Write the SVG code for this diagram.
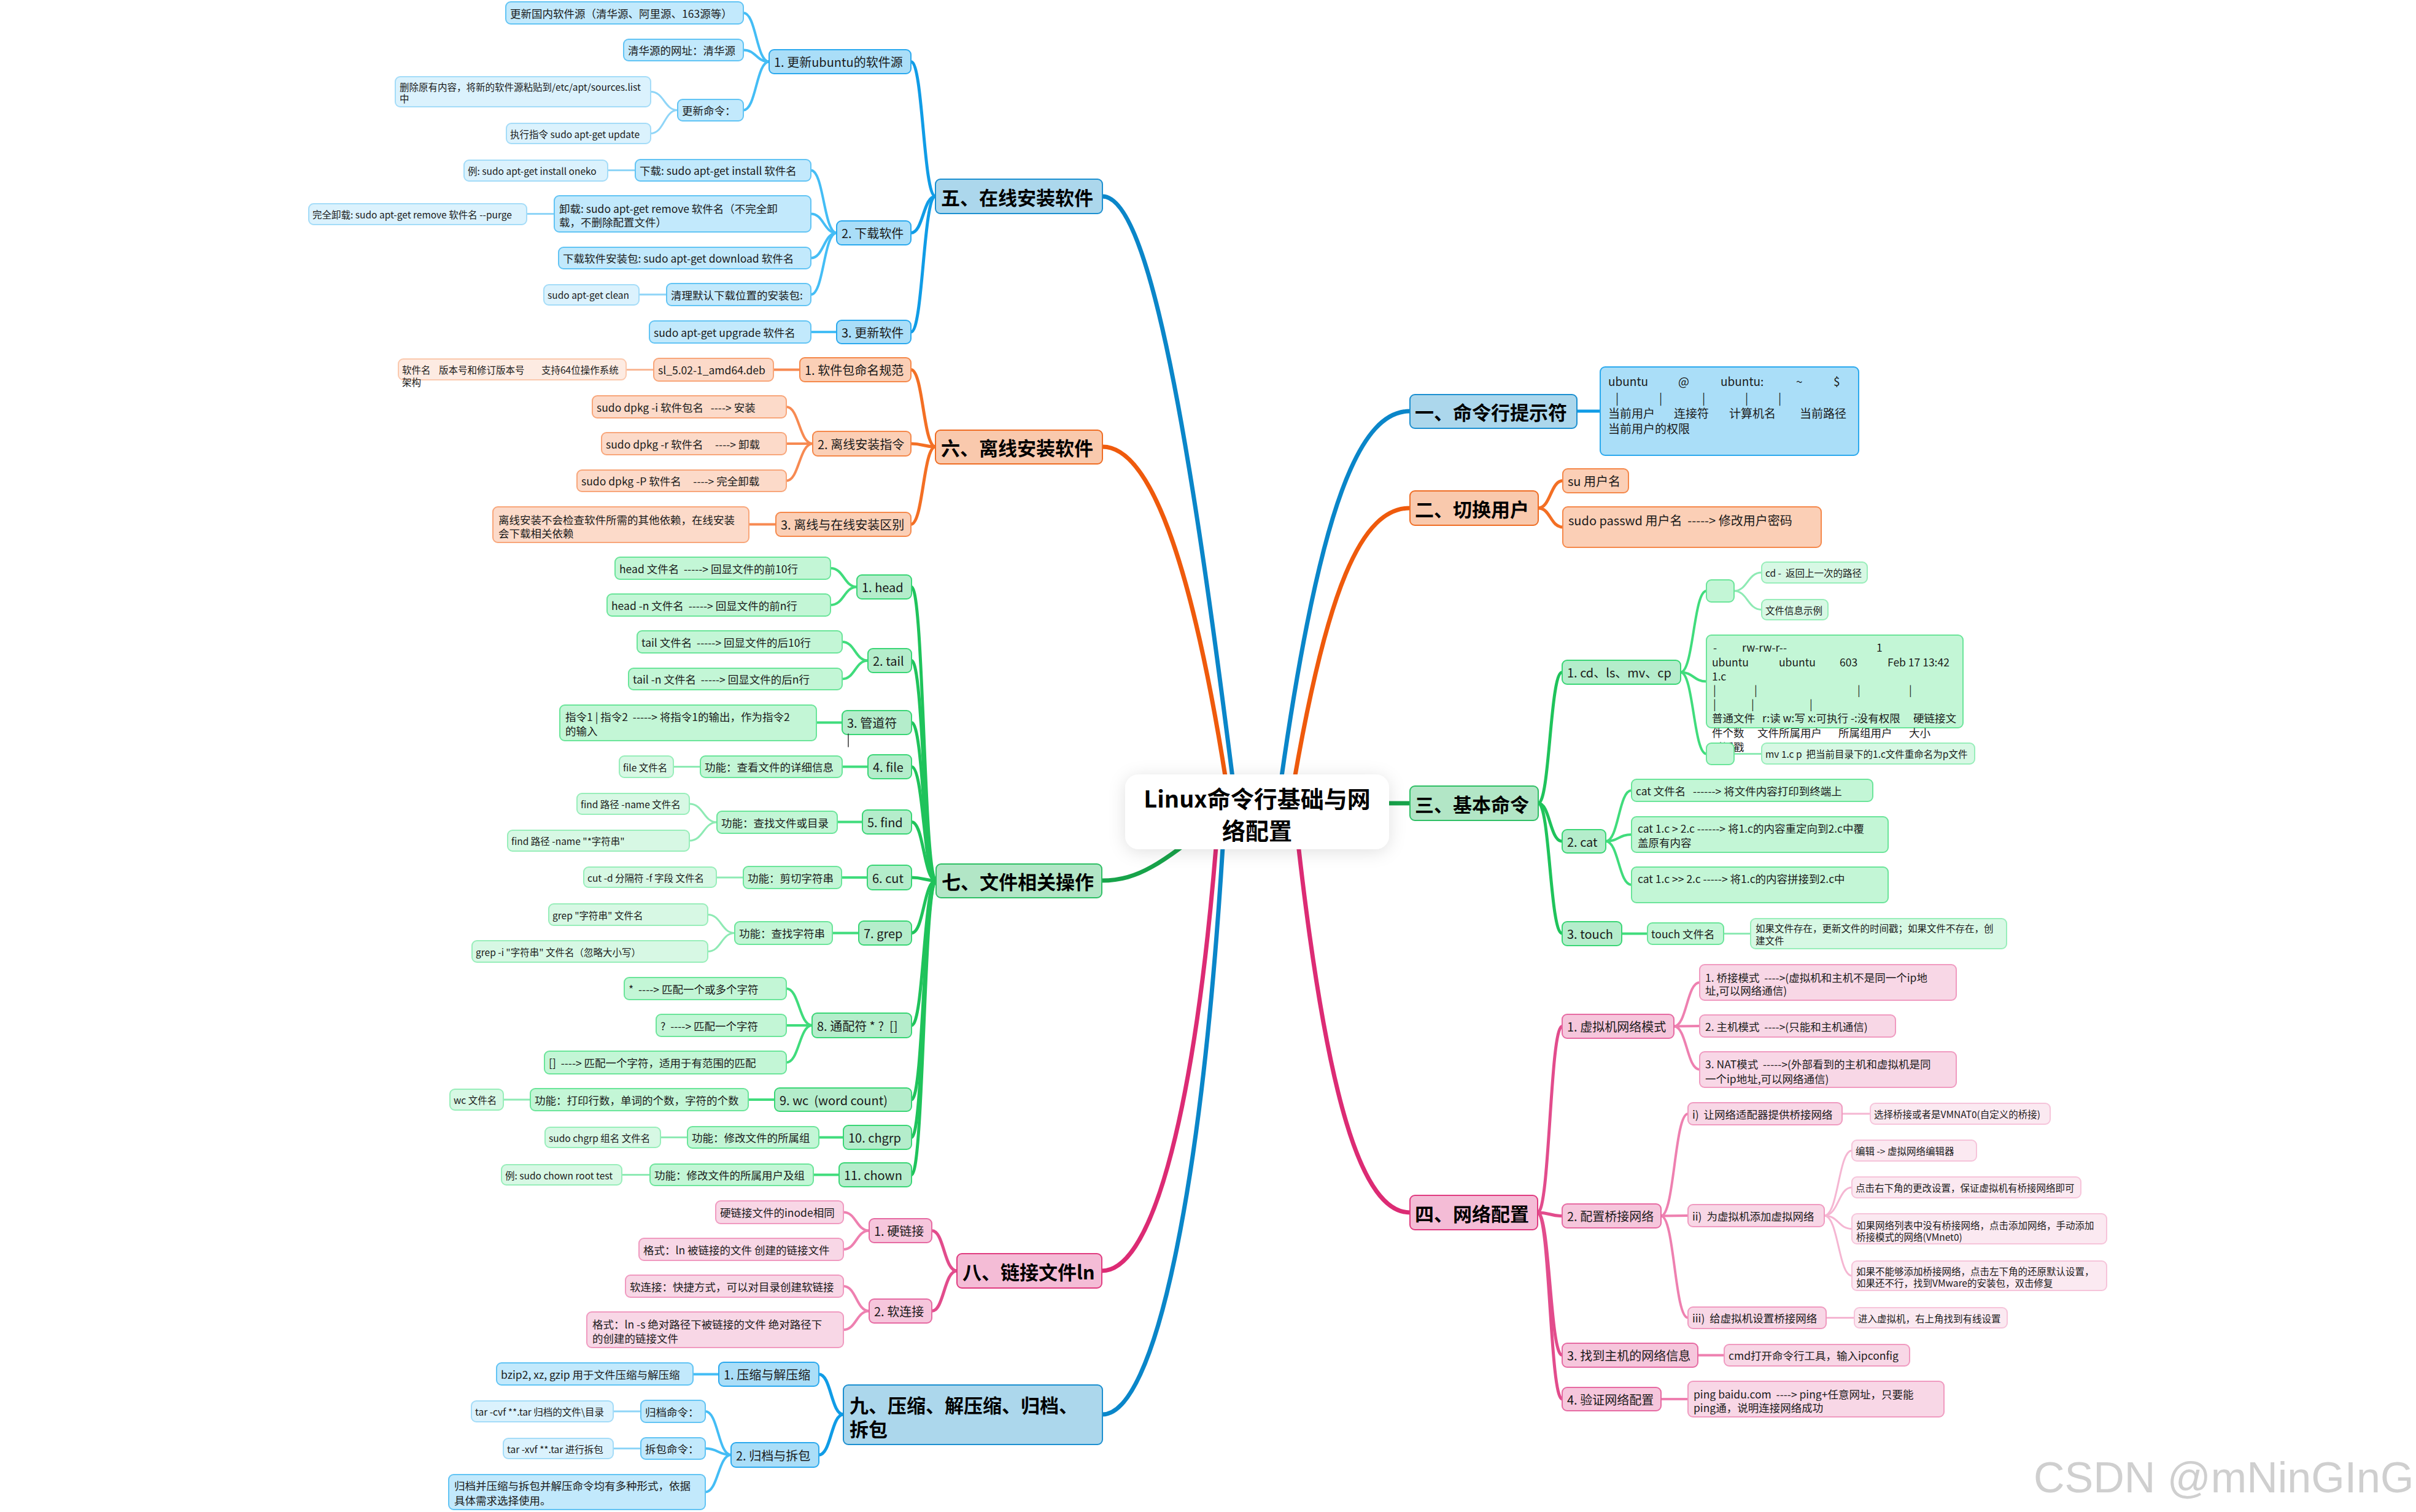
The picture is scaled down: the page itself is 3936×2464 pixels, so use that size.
<svg xmlns="http://www.w3.org/2000/svg" width="3936" height="2464" viewBox="0 0 3936 2464">
<defs>
<filter id="sh" x="-20%" y="-40%" width="140%" height="180%"><feDropShadow dx="0" dy="4" stdDeviation="14" flood-color="#000" flood-opacity="0.12"/></filter>
<style>
text{font-family:"Noto Sans CJK SC","Noto Sans",sans-serif;fill:#1a1a1a;dominant-baseline:central;white-space:pre}
.tc{font-size:38px;font-weight:700;fill:#000;text-anchor:middle}
.tm{font-size:31px;font-weight:700;fill:#000}
.t1{font-size:20px}
.t2{font-size:17.5px}
.t3{font-size:15.5px}
.t4{font-size:19px}
.wm{font-family:"Liberation Sans",Arial,sans-serif;font-size:70px;fill:#cfcfcf;dominant-baseline:alphabetic}
rect{stroke-width:2}
.b0{fill:#acd7ec;stroke:#1b8fd0}.b1{fill:#aadef8;stroke:#2ba9ee}.b2{fill:#c2e9fc;stroke:#62c4f4}.b3{fill:#dbf2fd;stroke:#a4dcf8}
.o0{fill:#f9c9ad;stroke:#ef6d24}.o1{fill:#fbcfb6;stroke:#f5884a}.o2{fill:#fcdac9;stroke:#f8a67a}.o3{fill:#fdebe2;stroke:#fbc9ae}
.g0{fill:#b2e6c6;stroke:#2fbf65}.g1{fill:#b4edcb;stroke:#3ad676}.g2{fill:#c3f6d6;stroke:#6be59a}.g3{fill:#d7f8e4;stroke:#98eeba}
.p0{fill:#f4bcd6;stroke:#e03b80}.p1{fill:#f6c6dc;stroke:#e66aa2}.p2{fill:#f8d7e6;stroke:#f09ac0}.p3{fill:#fbe9f1;stroke:#f6c4da}
path,line{fill:none;stroke-linecap:round}
.mb{stroke:#0a86c9;stroke-width:7}.mo{stroke:#ef5a0c;stroke-width:7}.mg{stroke:#17a34a;stroke-width:7}.mp{stroke:#dc2b74;stroke-width:7}
.cb1{stroke:#109ce6;stroke-width:5}.cb2{stroke:#44bdf5;stroke-width:4}.cb3{stroke:#8fd5f7;stroke-width:3}
.co1{stroke:#f36f24;stroke-width:5}.co2{stroke:#f78a52;stroke-width:4}.co3{stroke:#f9b896;stroke-width:3}
.cg1{stroke:#1fc35b;stroke-width:5}.cg2{stroke:#40dc7c;stroke-width:4}.cg3{stroke:#8eeab4;stroke-width:3}
.cp1{stroke:#e24c8c;stroke-width:5}.cp2{stroke:#ee80b0;stroke-width:4}.cp3{stroke:#f5b6d2;stroke-width:3}
</style>
</defs>
<rect width="3936" height="2464" fill="#fff" stroke="none"/>

<g id="connectors">
<path class="mb" d="M2015,1323 C1950,800 1880,320 1796,320"/>
<path class="mo" d="M2005,1323 C1950,950 1880,728 1796,728"/>
<path class="mg" d="M1990,1330 C1900,1400 1860,1435 1795,1435"/>
<path class="mp" d="M1985,1330 C1950,1800 1880,2071 1795,2071"/>
<path class="mb" d="M1995,1330 C1960,1950 1880,2305 1796,2305"/>
<path class="mb" d="M2080,1323 C2150,800 2220,670 2297,670"/>
<path class="mo" d="M2100,1323 C2160,950 2220,828 2297,828"/>
<path class="mg" d="M2048,1309 L2297,1309"/>
<path class="mp" d="M2110,1330 C2160,1800 2220,1976 2297,1976"/>
<path class="cb1" d="M1524,320 C1504,320 1504,100.5 1484,100.5"/>
<path class="cb1" d="M1524,320 C1504,320 1504,379.5 1484,379.5"/>
<path class="cb1" d="M1524,320 C1504,320 1504,541 1484,541"/>
<path class="cb2" d="M1253,100.5 C1232,100.5 1232,21 1211,21"/>
<path class="cb2" d="M1253,100.5 C1232,100.5 1232,81.5 1211,81.5"/>
<path class="cb2" d="M1253,100.5 C1232,100.5 1232,179.5 1211,179.5"/>
<path class="cb3" d="M1104,179.5 C1082,179.5 1082,149.5 1060,149.5"/>
<path class="cb3" d="M1104,179.5 C1082,179.5 1082,217.5 1060,217.5"/>
<path class="cb2" d="M1363,379.5 C1342,379.5 1342,277.5 1321,277.5"/>
<path class="cb2" d="M1363,379.5 C1342,379.5 1342,348.5 1321,348.5"/>
<path class="cb2" d="M1363,379.5 C1342,379.5 1342,420.5 1321,420.5"/>
<path class="cb2" d="M1363,379.5 C1342,379.5 1342,480 1321,480"/>
<line class="cb3" x1="1035" y1="277.5" x2="990" y2="277.5"/>
<line class="cb3" x1="903" y1="348.5" x2="858" y2="348.5"/>
<line class="cb3" x1="1086" y1="480" x2="1041" y2="480"/>
<line class="cb2" x1="1363" y1="541" x2="1321" y2="541"/>
<path class="co1" d="M1524,728 C1504,728 1504,602.5 1484,602.5"/>
<path class="co1" d="M1524,728 C1504,728 1504,723 1484,723"/>
<path class="co1" d="M1524,728 C1504,728 1504,854.5 1484,854.5"/>
<line class="co2" x1="1303" y1="602.5" x2="1260" y2="602.5"/>
<line class="co3" x1="1065" y1="602.5" x2="1020" y2="602.5"/>
<path class="co2" d="M1324,723 C1302,723 1302,663 1281,663"/>
<path class="co2" d="M1324,723 L1281,723"/>
<path class="co2" d="M1324,723 C1302,723 1302,783.5 1281,783.5"/>
<line class="co2" x1="1264" y1="854.5" x2="1220" y2="854.5"/>
<path class="cg1" d="M1525,1435 C1505,1435 1505,956.5 1485,956.5"/>
<path class="cg1" d="M1525,1435 C1505,1435 1505,1076.5 1485,1076.5"/>
<path class="cg1" d="M1525,1435 C1505,1435 1505,1177.5 1485,1177.5"/>
<path class="cg1" d="M1525,1435 C1505,1435 1505,1249.5 1485,1249.5"/>
<path class="cg1" d="M1525,1435 C1505,1435 1505,1339.5 1485,1339.5"/>
<path class="cg1" d="M1525,1435 C1505,1435 1505,1430 1485,1430"/>
<path class="cg1" d="M1525,1435 C1505,1435 1505,1520.5 1485,1520.5"/>
<path class="cg1" d="M1525,1435 C1505,1435 1505,1671 1485,1671"/>
<path class="cg1" d="M1525,1435 C1505,1435 1505,1792 1485,1792"/>
<path class="cg1" d="M1525,1435 C1505,1435 1505,1853.5 1485,1853.5"/>
<path class="cg1" d="M1525,1435 C1505,1435 1505,1914.5 1485,1914.5"/>
<path class="cg2" d="M1396,956.5 C1375,956.5 1375,926 1353,926"/>
<path class="cg2" d="M1396,956.5 C1375,956.5 1375,986 1353,986"/>
<path class="cg2" d="M1414,1076.5 C1393,1076.5 1393,1046 1372,1046"/>
<path class="cg2" d="M1414,1076.5 C1393,1076.5 1393,1106.5 1372,1106.5"/>
<line class="cg2" x1="1372" y1="1177.5" x2="1330" y2="1177.5"/>
<line class="cg2" x1="1414" y1="1249.5" x2="1372" y2="1249.5"/>
<line class="cg3" x1="1141" y1="1249.5" x2="1097" y2="1249.5"/>
<line class="cg2" x1="1405" y1="1339.5" x2="1364" y2="1339.5"/>
<path class="cg3" d="M1168,1340 C1146,1340 1146,1310 1123,1310"/>
<path class="cg3" d="M1168,1340 C1146,1340 1146,1370 1123,1370"/>
<line class="cg2" x1="1413" y1="1430" x2="1371" y2="1430"/>
<line class="cg3" x1="1211" y1="1430" x2="1167" y2="1430"/>
<line class="cg2" x1="1399" y1="1520.5" x2="1356" y2="1520.5"/>
<path class="cg3" d="M1197,1520.5 C1175,1520.5 1175,1490.5 1153,1490.5"/>
<path class="cg3" d="M1197,1520.5 C1175,1520.5 1175,1550.5 1153,1550.5"/>
<path class="cg2" d="M1323,1671 C1302,1671 1302,1611 1281,1611"/>
<path class="cg2" d="M1323,1671 L1281,1671"/>
<path class="cg2" d="M1323,1671 C1302,1671 1302,1731.5 1281,1731.5"/>
<line class="cg2" x1="1262" y1="1792" x2="1219" y2="1792"/>
<line class="cg3" x1="864" y1="1792" x2="820" y2="1792"/>
<line class="cg2" x1="1374" y1="1853.5" x2="1334" y2="1853.5"/>
<line class="cg3" x1="1120" y1="1853.5" x2="1076" y2="1853.5"/>
<line class="cg2" x1="1367" y1="1914.5" x2="1325" y2="1914.5"/>
<line class="cg3" x1="1059" y1="1914.5" x2="1013" y2="1914.5"/>
<path class="cp1" d="M1559,2071 C1538,2071 1538,2005.5 1518,2005.5"/>
<path class="cp1" d="M1559,2071 C1538,2071 1538,2136.5 1518,2136.5"/>
<path class="cp2" d="M1416,2005.5 C1395,2005.5 1395,1975.5 1374,1975.5"/>
<path class="cp2" d="M1416,2005.5 C1395,2005.5 1395,2036 1374,2036"/>
<path class="cp2" d="M1416,2136.5 C1395,2136.5 1395,2096 1374,2096"/>
<path class="cp2" d="M1416,2136.5 C1395,2136.5 1395,2167 1374,2167"/>
<path class="cb1" d="M1374,2305 C1354,2305 1354,2239.5 1334,2239.5"/>
<path class="cb1" d="M1374,2305 C1354,2305 1354,2371 1334,2371"/>
<line class="cb2" x1="1171" y1="2239.5" x2="1129" y2="2239.5"/>
<path class="cb2" d="M1191,2371 C1170,2371 1170,2300 1149,2300"/>
<path class="cb2" d="M1191,2371 C1170,2371 1170,2360.5 1149,2360.5"/>
<path class="cb2" d="M1191,2371 C1170,2371 1170,2431.5 1149,2431.5"/>
<line class="cb3" x1="1044" y1="2300" x2="999" y2="2300"/>
<line class="cb3" x1="1044" y1="2360.5" x2="999" y2="2360.5"/>
<line class="cb1" x1="2569" y1="670" x2="2607" y2="670"/>
<path class="co1" d="M2506,828 C2526,828 2526,783.5 2546,783.5"/>
<path class="co1" d="M2506,828 C2526,828 2526,859 2546,859"/>
<path class="cg1" d="M2506,1309 C2525,1309 2525,1095.5 2545,1095.5"/>
<path class="cg1" d="M2506,1309 C2525,1309 2525,1371 2545,1371"/>
<path class="cg1" d="M2506,1309 C2525,1309 2525,1521 2545,1521"/>
<path class="cg2" d="M2738,1095.5 C2759,1095.5 2759,963 2780,963"/>
<path class="cg2" d="M2738,1095.5 C2759,1095.5 2759,1110.5 2780,1110.5"/>
<path class="cg2" d="M2738,1095.5 C2759,1095.5 2759,1228.5 2780,1228.5"/>
<path class="cg3" d="M2825,963 C2847,963 2847,933 2870,933"/>
<path class="cg3" d="M2825,963 C2847,963 2847,993.5 2870,993.5"/>
<line class="cg3" x1="2825" y1="1228.5" x2="2870" y2="1228.5"/>
<path class="cg2" d="M2616,1371 C2637,1371 2637,1288 2658,1288"/>
<path class="cg2" d="M2616,1371 C2637,1371 2637,1360 2658,1360"/>
<path class="cg2" d="M2616,1371 C2637,1371 2637,1442 2658,1442"/>
<line class="cg2" x1="2642" y1="1521.5" x2="2684" y2="1521.5"/>
<line class="cg3" x1="2808" y1="1521.5" x2="2852" y2="1521.5"/>
<path class="cp1" d="M2505,1976 C2525,1976 2525,1672.5 2545,1672.5"/>
<path class="cp1" d="M2505,1976 C2525,1976 2525,1981.5 2545,1981.5"/>
<path class="cp1" d="M2505,1976 C2525,1976 2525,2208.5 2545,2208.5"/>
<path class="cp1" d="M2505,1976 C2525,1976 2525,2280 2545,2280"/>
<path class="cp2" d="M2727,1672.5 C2748,1672.5 2748,1601 2769,1601"/>
<path class="cp2" d="M2727,1672.5 L2769,1672"/>
<path class="cp2" d="M2727,1672.5 C2748,1672.5 2748,1743 2769,1743"/>
<path class="cp2" d="M2706,1981.5 C2728,1981.5 2728,1815 2750,1815"/>
<path class="cp2" d="M2706,1981.5 L2750,1981"/>
<path class="cp2" d="M2706,1981.5 C2728,1981.5 2728,2147.5 2750,2147.5"/>
<line class="cp3" x1="3001" y1="1815" x2="3047" y2="1815"/>
<path class="cp3" d="M2972,1981 C2995,1981 2995,1875 3017,1875"/>
<path class="cp3" d="M2972,1981 C2995,1981 2995,1935 3017,1935"/>
<path class="cp3" d="M2972,1981 C2995,1981 2995,2002.5 3017,2002.5"/>
<path class="cp3" d="M2972,1981 C2995,1981 2995,2079 3017,2079"/>
<line class="cp3" x1="2975" y1="2147.5" x2="3021" y2="2147.5"/>
<line class="cp2" x1="2766" y1="2208.5" x2="2809" y2="2208.5"/>
<line class="cp2" x1="2706" y1="2280" x2="2750" y2="2280"/>
</g>

<g id="center"><rect x="1833" y="1262" width="430" height="122" rx="22" fill="#fff" stroke="none" filter="url(#sh)"/>
<text class="tc" x="2048" y="1299">Linux命令行基础与网</text><text class="tc" x="2048" y="1351">络配置</text></g>

<g id="n1"><rect class="b0" x="2297" y="643" width="272" height="55" rx="8"/><text class="tm" x="2305" y="670">一、命令行提示符</text></g>
<g id="n1-1"><rect class="b1" x="2607" y="598" width="421" height="144" rx="8"/>
<text class="t4" y="620"><tspan x="2620">ubuntu</tspan><tspan x="2734">@</tspan><tspan x="2803">ubuntu:</tspan><tspan x="2926">~</tspan><tspan x="2987">$</tspan></text>
<text class="t4" y="647"><tspan x="2632">|</tspan><tspan x="2703">|</tspan><tspan x="2773">|</tspan><tspan x="2843">|</tspan><tspan x="2897">|</tspan></text>
<text class="t4" y="672"><tspan x="2620">当前用户</tspan><tspan x="2727">连接符</tspan><tspan x="2817">计算机名</tspan><tspan x="2932">当前路径</tspan></text>
<text class="t4" x="2620" y="697">当前用户的权限</text></g>

<g id="n2"><rect class="o0" x="2297" y="800" width="209" height="56" rx="8"/><text class="tm" x="2305" y="828">二、切换用户</text></g>
<g id="n2-1"><rect class="o1" x="2546" y="764" width="107" height="39" rx="8"/><text class="t1" x="2554" y="783.5">su 用户名</text></g>
<g id="n2-2"><rect class="o1" x="2546" y="826" width="421" height="66" rx="8"/><text class="t1" x="2555" y="847">sudo passwd 用户名  -----&gt; 修改用户密码</text></g>

<g id="n3"><rect class="g0" x="2297" y="1281" width="209" height="56" rx="8"/><text class="tm" x="2305" y="1309">三、基本命令</text></g>
<g id="n3-1"><rect class="g1" x="2545" y="1076" width="193" height="39" rx="8"/><text class="t1" x="2553" y="1095.5">1. cd、ls、mv、cp</text></g>
<g id="n3-1a"><rect class="g2" x="2780" y="945" width="45" height="36" rx="8"/></g>
<g id="n3-1a1"><rect class="g3" x="2870" y="916" width="172" height="34" rx="8"/><text class="t3" x="2876" y="933">cd -  返回上一次的路径</text></g>
<g id="n3-1a2"><rect class="g3" x="2870" y="977" width="108" height="33" rx="8"/><text class="t3" x="2876" y="993.5">文件信息示例</text></g>
<g id="n3-1b"><rect class="g2" x="2780" y="1035" width="418" height="151" rx="8"/>
<text class="t2" y="1054"><tspan x="2791">-</tspan><tspan x="2838">rw-rw-r--</tspan><tspan x="3057">1</tspan></text>
<text class="t2" y="1078"><tspan x="2789">ubuntu</tspan><tspan x="2898">ubuntu</tspan><tspan x="2997">603</tspan><tspan x="3075">Feb 17 13:42</tspan></text>
<text class="t2" x="2789" y="1101">1.c</text>
<text class="t2" y="1123"><tspan x="2791">|</tspan><tspan x="2858">|</tspan><tspan x="3026">|</tspan><tspan x="3110">|</tspan></text>
<text class="t2" y="1146"><tspan x="2791">|</tspan><tspan x="2853">|</tspan><tspan x="2948">|</tspan></text>
<text class="t2" y="1169"><tspan x="2789">普通文件</tspan><tspan x="2871">r:读 w:写 x:可执行 -:没有权限</tspan><tspan x="3117">硬链接文</tspan></text>
<text class="t2" y="1193"><tspan x="2789">件个数</tspan><tspan x="2863">文件所属用户</tspan><tspan x="2995">所属组用户</tspan><tspan x="3110">大小</tspan></text>
<text class="t2" x="2789" y="1216">时间戳</text></g>
<g id="n3-1c"><rect class="g2" x="2780" y="1211" width="45" height="35" rx="8"/></g>
<g id="n3-1c1"><rect class="g3" x="2870" y="1211" width="347" height="34" rx="8"/><text class="t3" x="2876" y="1228">mv 1.c p  把当前目录下的1.c文件重命名为p文件</text></g>
<g id="n3-2"><rect class="g1" x="2545" y="1352" width="71" height="38" rx="8"/><text class="t1" x="2553" y="1371">2. cat</text></g>
<g id="n3-2a"><rect class="g2" x="2658" y="1270" width="393" height="36" rx="8"/><text class="t2" x="2665" y="1288">cat 文件名   ------&gt; 将文件内容打印到终端上</text></g>
<g id="n3-2b"><rect class="g2" x="2658" y="1331" width="418" height="58" rx="8"/><text class="t2" x="2668" y="1349">cat 1.c &gt; 2.c ------&gt; 将1.c的内容重定向到2.c中覆</text><text class="t2" x="2668" y="1372">盖原有内容</text></g>
<g id="n3-2c"><rect class="g2" x="2658" y="1413" width="418" height="58" rx="8"/><text class="t2" x="2668" y="1431">cat 1.c &gt;&gt; 2.c -----&gt; 将1.c的内容拼接到2.c中</text></g>
<g id="n3-3"><rect class="g1" x="2545" y="1502" width="97" height="39" rx="8"/><text class="t1" x="2553" y="1521">3. touch</text></g>
<g id="n3-3a"><rect class="g2" x="2684" y="1504" width="124" height="35" rx="8"/><text class="t2" x="2690" y="1521.5">touch 文件名</text></g>
<g id="n3-3b"><rect class="g3" x="2852" y="1497" width="417" height="49" rx="8"/><text class="t3" x="2860" y="1512">如果文件存在，更新文件的时间戳；如果文件不存在，创</text><text class="t3" x="2860" y="1532">建文件</text></g>

<g id="n4"><rect class="p0" x="2297" y="1948" width="208" height="56" rx="8"/><text class="tm" x="2305" y="1976">四、网络配置</text></g>
<g id="n4-1"><rect class="p1" x="2545" y="1653" width="182" height="39" rx="8"/><text class="t1" x="2553" y="1672.5">1. 虚拟机网络模式</text></g>
<g id="n4-1a"><rect class="p2" x="2769" y="1572" width="418" height="58" rx="8"/><text class="t2" x="2778" y="1592">1. 桥接模式  ----&gt;(虚拟机和主机不是同一个ip地</text><text class="t2" x="2778" y="1613">址,可以网络通信)</text></g>
<g id="n4-1b"><rect class="p2" x="2769" y="1654" width="319" height="36" rx="8"/><text class="t2" x="2778" y="1672">2. 主机模式  ----&gt;(只能和主机通信)</text></g>
<g id="n4-1c"><rect class="p2" x="2769" y="1714" width="418" height="58" rx="8"/><text class="t2" x="2778" y="1733">3. NAT模式  -----&gt;(外部看到的主机和虚拟机是同</text><text class="t2" x="2778" y="1757">一个ip地址,可以网络通信)</text></g>
<g id="n4-2"><rect class="p1" x="2545" y="1962" width="161" height="39" rx="8"/><text class="t1" x="2553" y="1981.5">2. 配置桥接网络</text></g>
<g id="n4-2a"><rect class="p2" x="2750" y="1797" width="251" height="36" rx="8"/><text class="t2" x="2757" y="1815">i)  让网络适配器提供桥接网络</text></g>
<g id="n4-2a1"><rect class="p3" x="3047" y="1798" width="293" height="34" rx="8"/><text class="t3" x="3053" y="1815">选择桥接或者是VMNAT0(自定义的桥接)</text></g>
<g id="n4-2b"><rect class="p2" x="2750" y="1963" width="222" height="36" rx="8"/><text class="t2" x="2757" y="1981">ii)  为虚拟机添加虚拟网络</text></g>
<g id="n4-2b1"><rect class="p3" x="3017" y="1858" width="203" height="34" rx="8"/><text class="t3" x="3023" y="1875">编辑 -&gt; 虚拟网络编辑器</text></g>
<g id="n4-2b2"><rect class="p3" x="3017" y="1918" width="373" height="34" rx="8"/><text class="t3" x="3023" y="1935">点击右下角的更改设置，保证虚拟机有桥接网络即可</text></g>
<g id="n4-2b3"><rect class="p3" x="3017" y="1978" width="415" height="49" rx="8"/><text class="t3" x="3024" y="1996">如果网络列表中没有桥接网络，点击添加网络，手动添加</text><text class="t3" x="3024" y="2015">桥接模式的网络(VMnet0)</text></g>
<g id="n4-2b4"><rect class="p3" x="3017" y="2055" width="415" height="48" rx="8"/><text class="t3" x="3024" y="2071">如果不能够添加桥接网络，点击左下角的还原默认设置，</text><text class="t3" x="3024" y="2090">如果还不行，找到VMware的安装包，双击修复</text></g>
<g id="n4-2c"><rect class="p2" x="2750" y="2130" width="225" height="35" rx="8"/><text class="t2" x="2757" y="2147.5">iii)  给虚拟机设置桥接网络</text></g>
<g id="n4-2c1"><rect class="p3" x="3021" y="2131" width="249" height="33" rx="8"/><text class="t3" x="3027" y="2147.5">进入虚拟机，右上角找到有线设置</text></g>
<g id="n4-3"><rect class="p1" x="2545" y="2189" width="221" height="39" rx="8"/><text class="t1" x="2553" y="2208.5">3. 找到主机的网络信息</text></g>
<g id="n4-3a"><rect class="p2" x="2809" y="2191" width="302" height="35" rx="8"/><text class="t2" x="2816" y="2208.5">cmd打开命令行工具，输入ipconfig</text></g>
<g id="n4-4"><rect class="p1" x="2545" y="2261" width="161" height="38" rx="8"/><text class="t1" x="2553" y="2280">4. 验证网络配置</text></g>
<g id="n4-4a"><rect class="p2" x="2750" y="2251" width="417" height="58" rx="8"/><text class="t2" x="2759" y="2271">ping baidu.com  ----&gt; ping+任意网址，只要能</text><text class="t2" x="2759" y="2293">ping通，说明连接网络成功</text></g>

<g id="n5"><rect class="b0" x="1524" y="292" width="272" height="56" rx="8"/><text class="tm" x="1533" y="320">五、在线安装软件</text></g>
<g id="n5-1"><rect class="b1" x="1253" y="81" width="231" height="39" rx="8"/><text class="t1" x="1261" y="100.5">1. 更新ubuntu的软件源</text></g>
<g id="n5-1a"><rect class="b2" x="824" y="3" width="387" height="36" rx="8"/><text class="t2" x="831" y="21">更新国内软件源（清华源、阿里源、163源等）</text></g>
<g id="n5-1b"><rect class="b2" x="1016" y="64" width="195" height="35" rx="8"/><text class="t2" x="1023" y="81.5">清华源的网址：清华源</text></g>
<g id="n5-1c"><rect class="b2" x="1104" y="162" width="107" height="35" rx="8"/><text class="t2" x="1111" y="179.5">更新命令：</text></g>
<g id="n5-1c1"><rect class="b3" x="644" y="125" width="416" height="49" rx="8"/><text class="t3" x="651" y="141">删除原有内容，将新的软件源粘贴到/etc/apt/sources.list</text><text class="t3" x="651" y="160">中</text></g>
<g id="n5-1c2"><rect class="b3" x="825" y="201" width="235" height="33" rx="8"/><text class="t3" x="831" y="217.5">执行指令 sudo apt-get update</text></g>
<g id="n5-2"><rect class="b1" x="1363" y="360" width="121" height="39" rx="8"/><text class="t1" x="1371" y="379.5">2. 下载软件</text></g>
<g id="n5-2a"><rect class="b2" x="1035" y="260" width="286" height="35" rx="8"/><text class="t2" x="1042" y="277.5">下载: sudo apt-get install 软件名</text></g>
<g id="n5-2a1"><rect class="b3" x="756" y="261" width="234" height="34" rx="8"/><text class="t3" x="762" y="278">例: sudo apt-get install oneko</text></g>
<g id="n5-2b"><rect class="b2" x="903" y="319" width="418" height="59" rx="8"/><text class="t2" x="911" y="339">卸载: sudo apt-get remove 软件名（不完全卸</text><text class="t2" x="911" y="361">载，不删除配置文件）</text></g>
<g id="n5-2b1"><rect class="b3" x="503" y="332" width="355" height="34" rx="8"/><text class="t3" x="509" y="349">完全卸载: sudo apt-get remove 软件名 --purge</text></g>
<g id="n5-2c"><rect class="b2" x="910" y="403" width="411" height="35" rx="8"/><text class="t2" x="917" y="420.5">下载软件安装包: sudo apt-get download 软件名</text></g>
<g id="n5-2d"><rect class="b2" x="1086" y="462" width="235" height="36" rx="8"/><text class="t2" x="1093" y="480">清理默认下载位置的安装包:</text></g>
<g id="n5-2d1"><rect class="b3" x="886" y="464" width="155" height="33" rx="8"/><text class="t3" x="892" y="480">sudo apt-get clean</text></g>
<g id="n5-3"><rect class="b1" x="1363" y="522" width="121" height="38" rx="8"/><text class="t1" x="1371" y="541">3. 更新软件</text></g>
<g id="n5-3a"><rect class="b2" x="1058" y="523" width="263" height="36" rx="8"/><text class="t2" x="1065" y="541">sudo apt-get upgrade 软件名</text></g>

<g id="n6"><rect class="o0" x="1524" y="701" width="272" height="55" rx="8"/><text class="tm" x="1533" y="728">六、离线安装软件</text></g>
<g id="n6-1"><rect class="o1" x="1303" y="583" width="181" height="39" rx="8"/><text class="t1" x="1311" y="602.5">1. 软件包命名规范</text></g>
<g id="n6-1a"><rect class="o2" x="1065" y="584" width="195" height="37" rx="8"/><text class="t2" x="1072" y="602.5">sl_5.02-1_amd64.deb</text></g>
<g id="n6-1a1"><rect class="o3" x="649" y="585" width="371" height="34" rx="8"/><text class="t3" y="602"><tspan x="655">软件名</tspan><tspan x="715">版本号和修订版本号</tspan><tspan x="882">支持64位操作系统</tspan></text><text class="t3" x="655" y="622">架构</text></g>
<g id="n6-2"><rect class="o1" x="1324" y="703" width="160" height="40" rx="8"/><text class="t1" x="1332" y="723">2. 离线安装指令</text></g>
<g id="n6-2a"><rect class="o2" x="965" y="645" width="316" height="36" rx="8"/><text class="t2" x="972" y="663">sudo dpkg -i 软件包名   ----&gt; 安装</text></g>
<g id="n6-2b"><rect class="o2" x="980" y="705" width="301" height="36" rx="8"/><text class="t2" x="987" y="723">sudo dpkg -r 软件名     ----&gt; 卸载</text></g>
<g id="n6-2c"><rect class="o2" x="940" y="766" width="341" height="35" rx="8"/><text class="t2" x="947" y="783.5">sudo dpkg -P 软件名     ----&gt; 完全卸载</text></g>
<g id="n6-3"><rect class="o1" x="1264" y="835" width="220" height="39" rx="8"/><text class="t1" x="1272" y="854.5">3. 离线与在线安装区别</text></g>
<g id="n6-3a"><rect class="o2" x="803" y="826" width="417" height="58" rx="8"/><text class="t2" x="812" y="846">离线安装不会检查软件所需的其他依赖，在线安装</text><text class="t2" x="812" y="868">会下载相关依赖</text></g>

<g id="n7"><rect class="g0" x="1525" y="1408" width="270" height="55" rx="8"/><text class="tm" x="1534" y="1435">七、文件相关操作</text></g>
<g id="n7-1"><rect class="g1" x="1396" y="937" width="89" height="39" rx="8"/><text class="t1" x="1404" y="956.5">1. head</text></g>
<g id="n7-1a"><rect class="g2" x="1002" y="908" width="351" height="36" rx="8"/><text class="t2" x="1009" y="926">head 文件名  -----&gt; 回显文件的前10行</text></g>
<g id="n7-1b"><rect class="g2" x="989" y="968" width="364" height="36" rx="8"/><text class="t2" x="996" y="986">head -n 文件名  -----&gt; 回显文件的前n行</text></g>
<g id="n7-2"><rect class="g1" x="1414" y="1057" width="71" height="39" rx="8"/><text class="t1" x="1422" y="1076.5">2. tail</text></g>
<g id="n7-2a"><rect class="g2" x="1038" y="1028" width="334" height="36" rx="8"/><text class="t2" x="1045" y="1046">tail 文件名  -----&gt; 回显文件的后10行</text></g>
<g id="n7-2b"><rect class="g2" x="1024" y="1089" width="348" height="35" rx="8"/><text class="t2" x="1031" y="1106.5">tail -n 文件名  -----&gt; 回显文件的后n行</text></g>
<g id="n7-3"><rect class="g1" x="1372" y="1158" width="113" height="39" rx="8"/><text class="t1" x="1380" y="1177.5">3. 管道符</text><line x1="1382" y1="1196" x2="1382" y2="1217" stroke="#333" stroke-width="1.5"/></g>
<g id="n7-3a"><rect class="g2" x="912" y="1149" width="418" height="58" rx="8"/><text class="t2" x="921" y="1167">指令1 | 指令2  -----&gt; 将指令1的输出，作为指令2</text><text class="t2" x="921" y="1190">的输入</text></g>
<g id="n7-4"><rect class="g1" x="1414" y="1230" width="71" height="39" rx="8"/><text class="t1" x="1422" y="1249.5">4. file</text></g>
<g id="n7-4a"><rect class="g2" x="1141" y="1232" width="231" height="35" rx="8"/><text class="t2" x="1148" y="1249.5">功能：查看文件的详细信息</text></g>
<g id="n7-4a1"><rect class="g3" x="1009" y="1232" width="88" height="35" rx="8"/><text class="t3" x="1015" y="1249.5">file 文件名</text></g>
<g id="n7-5"><rect class="g1" x="1405" y="1320" width="80" height="39" rx="8"/><text class="t1" x="1413" y="1339.5">5. find</text></g>
<g id="n7-5a"><rect class="g2" x="1168" y="1322" width="196" height="36" rx="8"/><text class="t2" x="1175" y="1340">功能：查找文件或目录</text></g>
<g id="n7-5a1"><rect class="g3" x="940" y="1293" width="183" height="34" rx="8"/><text class="t3" x="946" y="1310">find 路径 -name 文件名</text></g>
<g id="n7-5a2"><rect class="g3" x="827" y="1353" width="296" height="34" rx="8"/><text class="t3" x="833" y="1370">find 路径 -name "*字符串"</text></g>
<g id="n7-6"><rect class="g1" x="1413" y="1410" width="72" height="40" rx="8"/><text class="t1" x="1421" y="1430">6. cut</text></g>
<g id="n7-6a"><rect class="g2" x="1211" y="1412" width="160" height="36" rx="8"/><text class="t2" x="1218" y="1430">功能：剪切字符串</text></g>
<g id="n7-6a1"><rect class="g3" x="951" y="1413" width="216" height="33" rx="8"/><text class="t3" x="957" y="1430">cut -d 分隔符 -f 字段 文件名</text></g>
<g id="n7-7"><rect class="g1" x="1399" y="1501" width="86" height="39" rx="8"/><text class="t1" x="1407" y="1520.5">7. grep</text></g>
<g id="n7-7a"><rect class="g2" x="1197" y="1502" width="159" height="37" rx="8"/><text class="t2" x="1204" y="1520.5">功能：查找字符串</text></g>
<g id="n7-7a1"><rect class="g3" x="894" y="1473" width="259" height="35" rx="8"/><text class="t3" x="900" y="1490.5">grep "字符串" 文件名</text></g>
<g id="n7-7a2"><rect class="g3" x="769" y="1533" width="384" height="35" rx="8"/><text class="t3" x="775" y="1550.5">grep -i "字符串" 文件名（忽略大小写）</text></g>
<g id="n7-8"><rect class="g1" x="1323" y="1651" width="162" height="40" rx="8"/><text class="t1" x="1331" y="1671">8. 通配符 * ?  []</text></g>
<g id="n7-8a"><rect class="g2" x="1017" y="1593" width="264" height="36" rx="8"/><text class="t2" x="1024" y="1611">*  ----&gt; 匹配一个或多个字符</text></g>
<g id="n7-8b"><rect class="g2" x="1069" y="1653" width="212" height="36" rx="8"/><text class="t2" x="1076" y="1671">?  ----&gt; 匹配一个字符</text></g>
<g id="n7-8c"><rect class="g2" x="887" y="1713" width="394" height="37" rx="8"/><text class="t2" x="894" y="1731.5">[]  ----&gt; 匹配一个字符，适用于有范围的匹配</text></g>
<g id="n7-9"><rect class="g1" x="1262" y="1773" width="223" height="38" rx="8"/><text class="t1" x="1270" y="1792">9. wc  (word count)</text></g>
<g id="n7-9a"><rect class="g2" x="864" y="1774" width="355" height="36" rx="8"/><text class="t2" x="871" y="1792">功能：打印行数，单词的个数，字符的个数</text></g>
<g id="n7-9a1"><rect class="g3" x="733" y="1775" width="87" height="34" rx="8"/><text class="t3" x="739" y="1792">wc 文件名</text></g>
<g id="n7-10"><rect class="g1" x="1374" y="1834" width="111" height="39" rx="8"/><text class="t1" x="1382" y="1853.5">10. chgrp</text></g>
<g id="n7-10a"><rect class="g2" x="1120" y="1836" width="214" height="35" rx="8"/><text class="t2" x="1127" y="1853.5">功能：修改文件的所属组</text></g>
<g id="n7-10a1"><rect class="g3" x="888" y="1837" width="188" height="33" rx="8"/><text class="t3" x="894" y="1853.5">sudo chgrp 组名 文件名</text></g>
<g id="n7-11"><rect class="g1" x="1367" y="1895" width="118" height="39" rx="8"/><text class="t1" x="1375" y="1914.5">11. chown</text></g>
<g id="n7-11a"><rect class="g2" x="1059" y="1897" width="266" height="35" rx="8"/><text class="t2" x="1066" y="1914.5">功能：修改文件的所属用户及组</text></g>
<g id="n7-11a1"><rect class="g3" x="817" y="1898" width="196" height="33" rx="8"/><text class="t3" x="823" y="1914.5">例: sudo chown root test</text></g>

<g id="n8"><rect class="p0" x="1559" y="2043" width="236" height="56" rx="8"/><text class="tm" x="1568" y="2071">八、链接文件ln</text></g>
<g id="n8-1"><rect class="p1" x="1416" y="1986" width="102" height="39" rx="8"/><text class="t1" x="1424" y="2005.5">1. 硬链接</text></g>
<g id="n8-1a"><rect class="p2" x="1166" y="1957" width="208" height="37" rx="8"/><text class="t2" x="1173" y="1975.5">硬链接文件的inode相同</text></g>
<g id="n8-1b"><rect class="p2" x="1041" y="2018" width="333" height="36" rx="8"/><text class="t2" x="1048" y="2036">格式：ln 被链接的文件 创建的链接文件</text></g>
<g id="n8-2"><rect class="p1" x="1416" y="2117" width="102" height="39" rx="8"/><text class="t1" x="1424" y="2136.5">2. 软连接</text></g>
<g id="n8-2a"><rect class="p2" x="1019" y="2078" width="355" height="36" rx="8"/><text class="t2" x="1026" y="2096">软连接：快捷方式，可以对目录创建软链接</text></g>
<g id="n8-2b"><rect class="p2" x="956" y="2138" width="418" height="58" rx="8"/><text class="t2" x="965" y="2157">格式：ln -s 绝对路径下被链接的文件 绝对路径下</text><text class="t2" x="965" y="2180">的创建的链接文件</text></g>

<g id="n9"><rect class="b0" x="1374" y="2257" width="422" height="97" rx="8"/><text class="tm" x="1384" y="2288">九、压缩、解压缩、归档、</text><text class="tm" x="1384" y="2327">拆包</text></g>
<g id="n9-1"><rect class="b1" x="1171" y="2220" width="163" height="39" rx="8"/><text class="t1" x="1179" y="2239.5">1. 压缩与解压缩</text></g>
<g id="n9-1a"><rect class="b2" x="809" y="2221" width="320" height="36" rx="8"/><text class="t2" x="816" y="2239">bzip2, xz, gzip 用于文件压缩与解压缩</text></g>
<g id="n9-2"><rect class="b1" x="1191" y="2351" width="143" height="40" rx="8"/><text class="t1" x="1199" y="2371">2. 归档与拆包</text></g>
<g id="n9-2a"><rect class="b2" x="1044" y="2282" width="105" height="36" rx="8"/><text class="t2" x="1051" y="2300">归档命令：</text></g>
<g id="n9-2a1"><rect class="b3" x="768" y="2283" width="231" height="34" rx="8"/><text class="t3" x="774" y="2300">tar -cvf **.tar 归档的文件\目录</text></g>
<g id="n9-2b"><rect class="b2" x="1044" y="2343" width="105" height="35" rx="8"/><text class="t2" x="1051" y="2360.5">拆包命令：</text></g>
<g id="n9-2b1"><rect class="b3" x="820" y="2344" width="179" height="33" rx="8"/><text class="t3" x="826" y="2360.5">tar -xvf **.tar 进行拆包</text></g>
<g id="n9-2c"><rect class="b2" x="731" y="2403" width="418" height="57" rx="8"/><text class="t2" x="740" y="2420">归档并压缩与拆包并解压命令均有多种形式，依据</text><text class="t2" x="740" y="2444">具体需求选择使用。</text></g>

<text class="wm" x="3313" y="2432">CSDN @mNinGInG</text>
</svg>
